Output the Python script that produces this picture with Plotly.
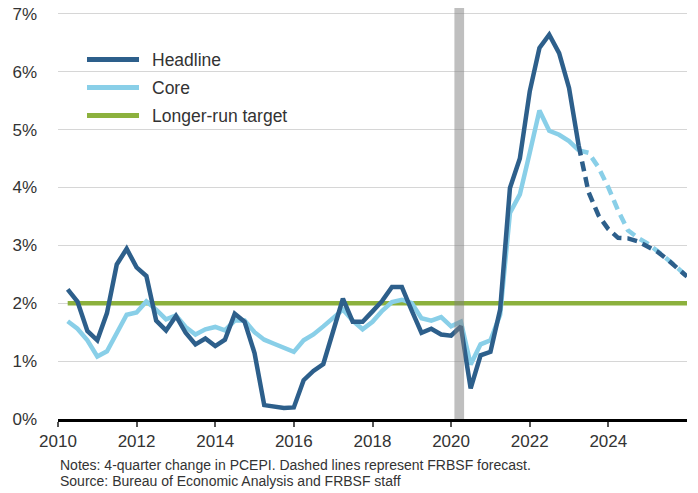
import pandas as pd
import plotly.graph_objects as go

# ---- data (4-quarter % change in PCE price index) ----
quarters = [f"{y}Q{q}" for y in range(2010, 2026) for q in range(1, 5)]

headline_actual = [
    2.24, 2.03, 1.52, 1.36,
    1.83, 2.67, 2.94, 2.62,
    2.47, 1.70, 1.53, 1.78,
    1.49, 1.29, 1.39, 1.26,
    1.37, 1.82, 1.68, 1.14,
    0.24, 0.22, 0.19, 0.20,
    0.67, 0.83, 0.95, 1.52,
    2.08, 1.68, 1.68, 1.86,
    2.04, 2.28, 2.28, 1.87,
    1.49, 1.56, 1.46, 1.44,
    1.60, 0.53, 1.10, 1.16,
    1.89, 3.99, 4.50, 5.66,
    6.41, 6.64, 6.32, 5.72,
    4.72,
]
core_actual = [
    1.69, 1.56, 1.36, 1.08,
    1.17, 1.49, 1.80, 1.84,
    2.03, 1.89, 1.72, 1.79,
    1.59, 1.46, 1.55, 1.59,
    1.53, 1.70, 1.70, 1.50,
    1.37, 1.30, 1.24, 1.16,
    1.36, 1.46, 1.60, 1.75,
    1.89, 1.70, 1.55, 1.68,
    1.87, 2.02, 2.06, 2.00,
    1.74, 1.70, 1.76, 1.60,
    1.68, 0.94, 1.29, 1.36,
    1.80, 3.56, 3.88, 4.60,
    5.33, 4.98, 4.91, 4.80,
    4.64,
]
# forecasts start from the last actual quarter (2023Q1)
headline_forecast = [4.72, 3.92, 3.52, 3.28, 3.13, 3.12, 3.07, 2.98, 2.89, 2.76, 2.62, 2.46]
core_forecast = [4.64, 4.60, 4.35, 4.00, 3.60, 3.26, 3.13, 3.03, 2.90, 2.77, 2.62, 2.46]
target = [2.0] * len(quarters)

recession = ["2020-02-01", "2020-05-01"]
tick_years = [2010, 2012, 2014, 2016, 2018, 2020, 2022, 2024]
y_ticks = [0, 1, 2, 3, 4, 5, 6, 7]

# quarter values are plotted at the end of each quarter
dates = [pd.Period(q, freq="Q").end_time.normalize() + pd.Timedelta(days=1) for q in quarters]
n_act = len(headline_actual)
act_dates = dates[:n_act]
fc_dates = dates[n_act - 1:]

HEAD = "#2d5f8b"
CORE = "#89cfe8"
GREEN = "#8cb13d"
FONT = "Liberation Sans, Arial, sans-serif"
TXT = "#333333"

fig = go.Figure()
fig.add_trace(go.Scatter(x=dates, y=target, mode="lines",
                         line=dict(color=GREEN, width=4.5), showlegend=False))
fig.add_trace(go.Scatter(x=act_dates, y=core_actual, mode="lines",
                         line=dict(color=CORE, width=4.5), showlegend=False))
fig.add_trace(go.Scatter(x=fc_dates, y=core_forecast, mode="lines",
                         line=dict(color=CORE, width=4.5, dash="10px,6px"), showlegend=False))
fig.add_trace(go.Scatter(x=act_dates, y=headline_actual, mode="lines",
                         line=dict(color=HEAD, width=4.5), showlegend=False))
fig.add_trace(go.Scatter(x=fc_dates, y=headline_forecast, mode="lines",
                         line=dict(color=HEAD, width=4.5, dash="10px,6px"), showlegend=False))

# recession shading
fig.add_shape(type="rect", xref="x", yref="paper", x0=recession[0], x1=recession[1],
              y0=0, y1=1, fillcolor="rgba(128,128,128,0.5)", line_width=0, layer="above")

# manual legend
legend_items = [("Headline", HEAD), ("Core", CORE), ("Longer-run target", GREEN)]
leg_y = [0.8745, 0.8064, 0.7383]
for (name, col), yy in zip(legend_items, leg_y):
    fig.add_shape(type="line", xref="paper", yref="paper", x0=0.0461, x1=0.1288,
                  y0=yy, y1=yy, line=dict(color=col, width=5))
    fig.add_annotation(xref="paper", yref="paper", x=0.1463, y=yy, text=name,
                       showarrow=False, xanchor="left", yanchor="middle",
                       font=dict(family=FONT, size=17.5, color=TXT))

# notes
fig.add_annotation(xref="paper", yref="paper", x=0, y=-0.1131, xanchor="left", yanchor="middle",
                   text="Notes: 4-quarter change in PCEPI. Dashed lines represent FRBSF forecast.",
                   showarrow=False, font=dict(family=FONT, size=14, color=TXT))
fig.add_annotation(xref="paper", yref="paper", x=0, y=-0.152, xanchor="left", yanchor="middle",
                   text="Source: Bureau of Economic Analysis and FRBSF staff",
                   showarrow=False, font=dict(family=FONT, size=14, color=TXT))

# the page adds an 8px body margin, so the figure is 8px smaller and shifted
fig.update_layout(
    width=690, height=485,
    margin=dict(l=50, r=11, t=0, b=74, autoexpand=False),
    paper_bgcolor="white", plot_bgcolor="white",
    font=dict(family=FONT, size=17, color=TXT),
)
fig.update_xaxes(
    type="date", range=["2010-01-01", "2026-01-01"], automargin=False,
    tickvals=[f"{y}-01-01" for y in tick_years], ticktext=[str(y) for y in tick_years],
    showgrid=False, showline=True, linecolor="black", linewidth=2.5,
    ticks="outside", ticklen=5, tickwidth=1.5, tickcolor="#555555",
    tickfont=dict(family=FONT, size=17, color=TXT), zeroline=False,
    ticklabeloverflow="allow",
)
fig.update_yaxes(
    range=[0, 7.1], automargin=False, tickvals=y_ticks, ticktext=[f"{v}%" for v in y_ticks],
    showgrid=True, gridcolor="#d6d6d6", gridwidth=1, zeroline=False, showline=False,
    ticks="", ticklabelstandoff=20, ticklabeloverflow="allow",
    tickfont=dict(family=FONT, size=17, color=TXT),
)

fig.write_html("out.html")
